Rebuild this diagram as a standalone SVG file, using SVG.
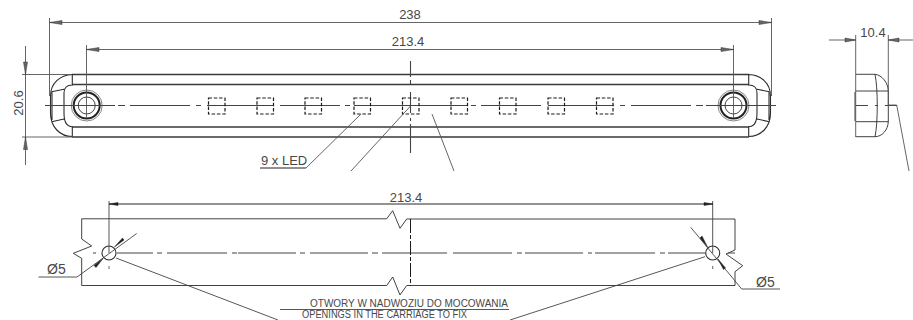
<svg xmlns="http://www.w3.org/2000/svg" width="913" height="320" viewBox="0 0 913 320">
<style>
text{font-family:"Liberation Sans",Arial,sans-serif;fill:#484848;font-size:13px}
.o{fill:none;stroke:#2c2c2c;stroke-width:1.1}
.w{fill:none;stroke:#3a3a3a;stroke-width:1.5}
.t{fill:none;stroke:#444;stroke-width:.9}
.d{fill:none;stroke:#555;stroke-width:.9}
.c{fill:none;stroke:#444;stroke-width:1.1}
.h{fill:none;stroke:#1c1c1c;stroke-width:1.2;stroke-dasharray:3.500 1.800}
.a{fill:#666;stroke:#333;stroke-width:.5}
.b{fill:#222;stroke:#222;stroke-width:.5}
</style>
<defs>
<path id="cap" class="o" d="M72.300 74.500C60 75 50.500 83 50.500 96V113C50.500 127 60 136.500 72.300 136.500M52 92V120M72.300 74.500V85C67 85 64 88 64 93V113C64 122 67 126.700 72.300 126.700V136.500M51.700 91.700L64 89.300M51.700 121.700L64 119"/>
<g id="hole" fill="none" stroke="#2c2c2c">
<circle r="15.500" stroke-width=".8" stroke="#666"/><circle r="13" stroke-width="2" stroke="#222"/><circle r="8.500" stroke-width=".9"/>
</g>
<rect id="led" class="h" x="0" y="0" width="16.500" height="16"/>
</defs>

<g id="front-view">
<path class="w" d="M72 74.500H749M72 84.500H749M72 127H749M72 137H749"/>
<use href="#cap"/>
<use href="#cap" transform="matrix(-1 0 0 1 821 0)"/>
<use href="#hole" x="86.700" y="105.500"/>
<use href="#hole" x="733.500" y="105.500"/>
<path class="c" d="M45 105.500H115M118 105.500H125M130 105.500H190M196 105.500H201M207 105.500H273M280 105.500H340M345 105.500H350M354 105.500H467M471 105.500H476M481 105.500H541M548 105.500H614M620 105.500H625M631 105.500H691M696 105.500H703M706 105.500H776"/>
<path class="c" d="M410.500 61V77M410.500 80V85M410.500 92V113M410.500 118V121M410.500 124V153"/>
<use href="#led" x="208.500" y="98"/>
<use href="#led" x="257" y="98"/>
<use href="#led" x="305" y="98"/>
<use href="#led" x="354" y="98"/>
<use href="#led" x="402.500" y="98"/>
<use href="#led" x="451" y="98"/>
<use href="#led" x="499.500" y="98"/>
<use href="#led" x="548" y="98"/>
<use href="#led" x="596.500" y="98"/>
</g>

<g id="side-view">
<path class="o" style="stroke-width:.9" d="M855.700 74.300H875C882 75 888.300 83 888.300 91V121C888.300 130 882 136.700 875 136.700H855.700M855 92V121M875 74.300C878 88 878 123 875 136.700M855.700 91H888.300M855.700 121.700H888.300"/>
<path class="c" d="M856 105.500H868M875 105.500H878M885 105.500H897"/>
</g>

<g id="bottom-view">
<path class="o" style="stroke-width:.9" d="M81.700 239V218.800H386.700L392.700 210.700L400 228.300L406.700 219H735V250L726 254L742.700 265.700L735 271.700V285.500H406.700L400 295L392.700 277L386.700 285.500H81.700V258.300L73.300 253.300L91.700 246L81.700 239"/>
<path class="c" d="M93 253H96M117 253H153M157 253H162M167 253H227M232 253H237M238 253H296M300 253H305M310 253H368M372 253H378M382 253H447M453 253H512M517 253H522M525 253H583M588 253H592M595 253H655M660 253H665M668 253H705M728 253H735"/>
<path class="h" style="stroke-width:1;stroke-dasharray:14 2 4 2" d="M410.500 219V285.500"/>
<circle class="o" cx="109" cy="253" r="7"/>
<circle class="o" cx="712.700" cy="253" r="7"/>
<path class="d" d="M109 266V269M712.700 266V269"/>
</g>

<g id="connectors">
<path class="d" d="M49.500 18V96M86.500 45V118M771.500 18V96M733.500 45V118M49.500 22.500H771.500M86.500 49.500H733.500"/>
<path class="a" d="M49.500 22.500L62 20.500V24.500ZM771.500 22.500L759 20.500V24.500ZM86.500 49.500L99 47.500V51.500ZM733.500 49.500L721 47.500V51.500Z"/>
<path class="d" d="M22 74.500H72M22 137H72M25.500 46V165"/>
<path class="a" d="M25.500 74.500L23.500 62H27.500ZM25.500 137L23.500 149.500H27.500Z"/>
<path class="d" d="M306 168L361 114M351 171L410.500 106M454 171L432 114"/>
<path class="t" style="stroke:#222;stroke-width:1" d="M260 168H306"/>
<path class="d" d="M855.700 35V137M888.300 35V105M829 40H855.700M888.300 40H913M888 105H896.700L909 171"/>
<path class="a" d="M855.700 40L845 38V42ZM888.300 40L899 38V42Z"/>
<path class="t" d="M109 201V253M712.700 201V253"/>
<path style="stroke:#111;stroke-width:.9;fill:none" d="M109 204H713"/>
<path class="b" d="M109 204L118 202.500V205.500ZM713 204L704 202.500V205.500Z"/>
<path class="t" d="M136.700 233.500L77 277H38.500M690.700 227.300L741.700 289H780M116 258L278 320M705 256.700L510 320"/>
<path class="b" d="M114.500 247L124 240L122.500 238ZM103 258.500L94 265.500L96 267.500ZM707.500 247L700 238L702 236ZM718 259L725.500 268L723.500 269.500Z"/>
<path class="t" d="M280 309.500H509"/>
</g>

<g id="labels">
<text x="410" y="19" text-anchor="middle">238</text>
<text x="408" y="46" text-anchor="middle">213.4</text>
<text transform="translate(23 103) rotate(-90)" text-anchor="middle">20.6</text>
<text x="261" y="165">9 x LED</text>
<text x="873" y="37" text-anchor="middle">10.4</text>
<text x="406" y="202" text-anchor="middle">213.4</text>
<text x="47" y="274" style="font-size:14px">Ø5</text>
<text x="756" y="287" style="font-size:14px">Ø5</text>
<text x="310" y="307" style="font-size:10px" textLength="198" lengthAdjust="spacingAndGlyphs">OTWORY W NADWOZIU DO MOCOWANIA</text>
<text x="302" y="318" style="font-size:10px" textLength="165" lengthAdjust="spacingAndGlyphs">OPENINGS IN THE CARRIAGE TO FIX</text>
</g>
</svg>
